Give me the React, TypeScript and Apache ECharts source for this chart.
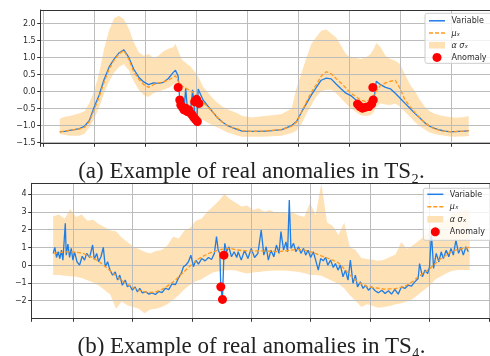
import React, { useEffect, useRef } from 'react';
import * as echarts from 'echarts';

// ---------- (a) TS2 ----------
const topT = [81,105,129,153,177,202,226,250,274,298,323,347,371,395,419,443,468,492,516,540,564,589,613,637,648,661,671,681,690,698,706,722,732,742,753,759,783,806,830,855,879,903,927,952,
  975,1024,1072,1121,1169,1217,1241,1266,1290,1314,1338,1362,1387,1411,1435,1459,1483,1507,1532,1556,1580,1604,1620,1632,1653,1677,1701,1725,1749,1773,1798,1822,1846,1870,1894,1918,1943,1967,1991,2015,2039,2064,2085];
const topVar = [-1.18,-1.17,-1.14,-1.12,-1.09,-1.02,-0.85,-0.45,-0.10,0.35,0.72,0.95,1.13,1.22,1.00,0.66,0.42,0.28,0.20,0.25,0.24,0.27,0.38,0.56,0.62,0.45,-0.45,-0.50,-0.55,0.10,-0.50,-0.52,0.05,-0.65,-0.90,0.07,-0.25,-0.42,-0.60,-0.78,-0.90,-1.00,-1.06,-1.12,
  -1.16,-1.17,-1.17,-1.15,-1.12,-1.00,-0.88,-0.60,-0.35,-0.10,0.12,0.33,0.39,0.37,0.22,0.08,-0.05,-0.12,-0.25,-0.42,-0.46,-0.44,-0.28,0.30,0.20,0.12,0.08,-0.05,-0.20,-0.35,-0.50,-0.65,-0.78,-0.92,-1.02,-1.08,-1.13,-1.16,-1.18,-1.18,-1.17,-1.16,-1.15];
const topMean = [-1.19,-1.16,-1.14,-1.12,-1.10,-1.05,-0.88,-0.52,-0.16,0.28,0.66,0.92,1.10,1.20,0.95,0.58,0.36,0.20,0.12,0.20,0.25,0.28,0.33,0.42,0.46,0.30,0.20,0.16,0.12,0.10,0.07,0.02,-0.02,-0.08,-0.14,-0.18,-0.32,-0.45,-0.60,-0.77,-0.90,-1.00,-1.06,-1.10,
  -1.15,-1.17,-1.16,-1.14,-1.12,-1.02,-0.90,-0.60,-0.30,-0.02,0.20,0.45,0.58,0.52,0.38,0.25,0.10,-0.05,-0.15,-0.25,-0.30,-0.22,-0.10,0.00,0.18,0.25,0.30,0.33,0.08,-0.25,-0.45,-0.62,-0.78,-0.92,-1.02,-1.10,-1.14,-1.17,-1.18,-1.18,-1.17,-1.16,-1.15];
const topLo = [-1.25,-1.28,-1.30,-1.30,-1.30,-1.24,-1.06,-0.80,-0.46,-0.05,0.30,0.55,0.72,0.80,0.62,0.30,0.05,-0.10,-0.16,-0.05,0.00,0.05,0.10,0.20,0.24,0.05,-0.05,-0.20,-0.30,-0.35,-0.40,-0.50,-0.55,-0.62,-0.68,-0.72,-0.84,-0.92,-1.00,-1.06,-1.13,-1.20,-1.25,-1.30,
  -1.33,-1.33,-1.33,-1.31,-1.30,-1.22,-1.15,-0.95,-0.65,-0.40,-0.15,0.00,0.05,0.05,-0.05,-0.20,-0.35,-0.50,-0.60,-0.70,-0.72,-0.70,-0.60,-0.45,-0.35,-0.38,-0.40,-0.35,-0.45,-0.60,-0.75,-0.90,-1.02,-1.12,-1.20,-1.25,-1.28,-1.30,-1.32,-1.33,-1.32,-1.32,-1.30];
const topUp = [-0.80,-0.74,-0.72,-0.68,-0.64,-0.58,-0.34,0.02,0.55,1.25,1.80,2.15,2.22,2.12,1.85,1.45,1.15,1.05,1.10,0.98,1.05,1.18,1.25,1.30,1.40,1.20,1.05,0.92,0.88,0.85,0.80,0.73,0.65,0.58,0.50,0.45,0.14,-0.02,-0.20,-0.34,-0.45,-0.52,-0.58,-0.64,
  -0.72,-0.76,-0.73,-0.70,-0.66,-0.50,0.10,0.55,1.00,1.40,1.60,1.78,1.82,1.70,1.58,1.35,1.10,1.00,0.98,0.95,1.00,1.10,1.25,1.42,1.30,1.05,0.95,0.90,0.80,0.50,0.20,0.00,-0.25,-0.45,-0.58,-0.65,-0.70,-0.73,-0.75,-0.76,-0.76,-0.75,-0.72];
const topAnomT = [661,669,674,682,690,698,706,714,722,730,738,746,755,742,751,763,1540,1551,1564,1580,1596,1609,1617,1615];
const topAnomV = [0.12,-0.25,-0.40,-0.46,-0.54,-0.49,-0.59,-0.54,-0.64,-0.69,-0.76,-0.82,-0.88,-0.30,-0.23,-0.35,-0.37,-0.44,-0.49,-0.46,-0.44,-0.37,-0.25,0.12];
const topXStep = 250;
const topYStep = 0.5;

// ---------- (b) TS4 ----------
const botVarT = [167,174,181,188,195,202,208,218,222,229,236,243,250,257,267,278,289,299,308,320,333,340,350,358,368,378,386,396,406,417,428,438,447,458,470,479,489,500,511,521,531,542,556,570,583,597,611,625,639,653,667,681,695,706,715,725,736,746,757,767,778,792,806,820,833,845,854,861,868,872,879,885,889,896,906,917,928,939,
  945,958,972,986,1000,1014,1028,1042,1053,1063,1072,1083,1095,1106,1117,1125,1136,1146,1153,1160,1167,1178,1188,1199,1209,1220,1229,1239,1250,1261,1271,1282,1292,1303,1313,1322,1334,1345,1354,1365,1375,1386,1396,1407,1417,1428,1438,1447,1459,1470,1481,1493,1507,1521,1535,1549,1563,1577,1590,1604,1618,1632,1646,1660,1674,1688,1702,1708,1720,1731,1742,1750,1758,1767,1778,1789,1799,1808,1820,1831,1840,1850,1861,1872,1882,1892,1903,1913];
const botVarV = [0.66,1.00,0.43,0.75,0.37,0.84,0.28,2.35,0.56,1.18,0.43,0.94,0.28,0.75,0.19,0.00,0.50,0.28,0.66,0.43,1.13,0.32,0.66,0.19,0.47,1.00,-0.09,0.19,-0.28,-0.56,-0.38,-0.84,-0.56,-1.13,-0.84,-1.22,-1.13,-1.41,-1.22,-1.50,-1.31,-1.56,-1.50,-1.63,-1.56,-1.65,-1.48,-1.55,-1.30,-1.38,-1.05,-1.10,-0.70,-0.45,-0.09,0.00,0.19,0.56,-0.09,0.28,0.06,0.37,0.24,0.43,0.32,0.66,1.60,0.84,0.66,-1.22,-1.93,0.56,1.22,0.75,1.03,0.47,0.75,0.43,
  0.75,0.28,0.84,0.37,0.94,0.43,0.66,1.97,0.56,1.03,0.28,0.84,0.47,1.13,0.66,1.88,0.84,1.31,0.75,3.66,0.94,1.22,0.75,1.03,0.66,0.94,0.56,0.84,0.43,0.75,0.28,-0.28,0.37,0.24,0.43,0.00,0.28,-0.13,0.09,-0.28,0.00,-0.66,-0.28,-0.84,0.28,-1.03,-0.56,-1.22,-0.94,-1.31,-1.13,-1.41,-1.22,-1.44,-1.56,-1.41,-1.60,-1.44,-1.63,-1.37,-1.63,-1.22,-1.31,-1.13,-1.18,-0.94,-0.75,0.09,-0.66,-0.28,-0.47,-0.09,1.78,-0.19,0.66,0.19,0.75,0.37,0.84,0.47,0.94,0.56,1.41,0.66,1.00,0.56,1.03,0.75];
const botStatStart = 167;
const botStatStep = 24;
const botMean = [0.66,0.70,0.74,0.75,0.73,0.68,0.57,0.40,0.20,-0.05,-0.32,-0.60,-0.85,-1.08,-1.26,-1.40,-1.50,-1.54,-1.50,-1.38,-1.18,-0.95,-0.66,-0.35,-0.05,0.25,0.45,0.62,0.75,0.85,0.92,0.94,0.86,0.82,0.80,0.80,0.80,0.79,0.78,0.76,0.78,0.82,0.86,0.88,0.84,0.76,0.65,0.52,0.40,0.28,0.12,-0.20,-0.55,-0.85,-1.05,-1.20,-1.26,-1.30,-1.35,-1.34,-1.32,-1.25,-1.12,-0.92,-0.65,-0.42,-0.20,0.10,0.38,0.60,0.80,0.88,0.95,1.00];
const botLo = [-0.56,-0.55,-0.60,-0.62,-0.66,-0.72,-0.85,-0.98,-1.15,-1.40,-1.65,-2.45,-2.05,-2.25,-2.35,-2.45,-2.70,-2.50,-2.45,-2.35,-2.20,-1.95,-1.70,-1.35,-1.10,-0.90,-0.80,-0.60,-0.42,-0.35,-0.30,-0.28,-0.30,-0.40,-0.47,-0.42,-0.38,-0.35,-0.32,-0.30,-0.30,-0.32,-0.35,-0.38,-0.45,-0.55,-0.56,-0.60,-0.75,-0.90,-1.05,-1.30,-1.70,-2.00,-2.35,-2.20,-2.30,-2.40,-2.35,-2.30,-2.20,-2.15,-2.05,-1.90,-1.65,-1.40,-1.15,-0.80,-0.62,-0.45,-0.32,-0.28,-0.28,-0.28];
const botUp = [2.75,2.85,2.60,3.15,2.70,2.85,2.50,2.55,2.30,2.15,1.95,1.90,1.55,1.30,1.05,0.90,0.75,0.65,0.80,0.85,1.10,1.60,1.50,1.95,2.10,2.50,2.60,3.00,3.30,3.60,4.00,3.70,3.50,3.30,3.35,3.10,3.20,3.00,3.10,2.95,3.00,2.90,2.95,2.80,2.70,3.50,2.80,4.60,2.40,2.20,1.70,2.40,1.00,0.85,0.40,0.35,0.30,0.25,0.30,0.45,0.60,1.30,0.90,1.10,1.35,1.60,1.90,2.10,2.30,2.55,2.90,3.00,3.10,3.10];
const botAnomT = [872,879,885];
const botAnomV = [-1.22,-1.93,0.56];
const botXStep = 250;
const botYStep = 1;

const legendLabels = ['Variable', 'μₓ', 'α σₓ', 'Anomaly'];
const captionA = '(a) Example of real anomalies in TS₂.';
const captionB = '(b) Example of real anomalies in TS₄.';

const BLUE = '#1f7de6';
const ORANGE = '#ff9a1f';
const BAND = '#ffe1b6';
const RED = '#ff0000';
const GRIDC = '#bcbcbc';
const AXIS = '#333333';
const FONT = 'DejaVu Sans';

const zip = (a: number[], b: number[]) => a.map((v, i) => [v, b[i]]);

function bandSeries(gi: number, t: number[], lo: number[], up: number[]) {
  return {
    type: 'custom',
    xAxisIndex: gi * 2,
    yAxisIndex: gi * 2,
    z: -1,
    clip: true,
    silent: true,
    data: [[t[0], lo[0]]],
    renderItem: (params: any, api: any) => {
      const pts: number[][] = [];
      for (let i = 0; i < t.length; i++) pts.push(api.coord([t[i], up[i]]));
      for (let i = t.length - 1; i >= 0; i--) pts.push(api.coord([t[i], lo[i]]));
      return { type: 'polygon', shape: { points: pts }, style: { fill: BAND, stroke: null } };
    },
  };
}

function lineSeries(gi: number, data: number[][], color: string, dashed: boolean, z: number) {
  return {
    type: 'line',
    xAxisIndex: gi * 2,
    yAxisIndex: gi * 2,
    data,
    showSymbol: false,
    symbol: 'none',
    z,
    lineStyle: { color, width: 1.3, type: dashed ? [4, 2] : 'solid' },
  };
}

function xAxisCfg(gi: number, min: number, max: number, step: number) {
  return {
    type: 'value', gridIndex: gi, position: 'bottom', min, max, minInterval: step, maxInterval: step,
    axisLine: { show: true, onZero: false, lineStyle: { color: AXIS, width: 1 } },
    axisTick: { show: true, length: 3.5, lineStyle: { color: AXIS, width: 1 } },
    axisLabel: { show: false },
    splitLine: { show: true, lineStyle: { color: GRIDC, width: 1 } },
  };
}

function yAxisCfg(gi: number, min: number, max: number, step: number, fmt: (v: number) => string) {
  return {
    type: 'value', gridIndex: gi, position: 'left', min, max, minInterval: step, maxInterval: step,
    axisLine: { show: true, onZero: false, lineStyle: { color: AXIS, width: 1 } },
    axisTick: { show: true, length: 3.5, lineStyle: { color: AXIS, width: 1 } },
    axisLabel: { show: true, showMinLabel: false, showMaxLabel: false, formatter: fmt, fontFamily: FONT, fontSize: 8, color: '#2a2a2a', margin: 5 },
    splitLine: { show: true, lineStyle: { color: GRIDC, width: 1 } },
  };
}

function frameAxis(kind: 'x' | 'y', gi: number, min: number, max: number) {
  return {
    type: 'value', gridIndex: gi, position: kind === 'x' ? 'top' : 'right', min, max,
    axisLine: { show: true, onZero: false, lineStyle: { color: AXIS, width: 1 } },
    axisTick: { show: false }, axisLabel: { show: false }, splitLine: { show: false },
  };
}

function legend(x: number, y: number, w: number, h: number, rows: number[]) {
  const lx0 = x + 4;
  const lx1 = x + 20;
  const tx = x + 26.5;
  const txt = (s: string, yy: number, italic: boolean) => ({
    type: 'text', z: 101,
    style: { text: s, x: tx, y: yy, fontFamily: FONT, fontSize: 8, fontStyle: italic ? 'italic' : 'normal', fill: '#2a2a2a', verticalAlign: 'middle', align: 'left' },
  });
  return [
    { type: 'rect', z: 100, shape: { x, y, width: w, height: h, r: 2 }, style: { fill: 'rgba(255,255,255,0.8)', stroke: '#cccccc', lineWidth: 1 } },
    { type: 'line', z: 101, shape: { x1: lx0, y1: rows[0], x2: lx1, y2: rows[0] }, style: { stroke: BLUE, lineWidth: 1.5 } },
    txt(legendLabels[0], rows[0], false),
    { type: 'line', z: 101, shape: { x1: lx0, y1: rows[1], x2: lx1, y2: rows[1] }, style: { stroke: ORANGE, lineWidth: 1.5, lineDash: [4, 2] } },
    txt(legendLabels[1], rows[1], true),
    { type: 'rect', z: 101, shape: { x: lx0, y: rows[2] - 3.3, width: lx1 - lx0, height: 6.6 }, style: { fill: BAND } },
    txt(legendLabels[2], rows[2], true),
    { type: 'circle', z: 101, shape: { cx: (lx0 + lx1) / 2, cy: rows[3], r: 4.5 }, style: { fill: RED } },
    txt(legendLabels[3], rows[3], false),
  ];
}

function caption(s: string, y: number) {
  return {
    type: 'text', z: 100,
    style: { text: s, x: 251.5, y, align: 'center', verticalAlign: 'middle', fontFamily: 'Liberation Serif', fontSize: 23, fill: '#222222' },
  };
}

export default function App() {
  const ref = useRef<HTMLDivElement>(null);
  useEffect(() => {
    if (!ref.current) return;
    const chart = echarts.init(ref.current, null, { renderer: 'svg' });
    const botStatT = botMean.map((_, i) => botStatStart + i * botStatStep);
    const fmtA = (v: number) => v.toFixed(1).replace('-', '\u2212');
    const fmtB = (v: number) => String(Math.round(v)).replace('-', '\u2212');
    chart.setOption({
      animation: false,
      grid: [
        { left: 40.7, top: 10, width: 455.3, height: 133.3 },
        { left: 31.7, top: 183.3, width: 462.6, height: 135 },
      ],
      xAxis: [
        xAxisCfg(0, -12.6, 2189.2, topXStep),
        frameAxis('x', 0, -12.6, 2189.2),
        xAxisCfg(1, 76.7, 2004.2, botXStep),
        frameAxis('x', 1, 76.7, 2004.2),
      ],
      yAxis: [
        yAxisCfg(0, -1.52, 2.39, topYStep, fmtA),
        frameAxis('y', 0, -1.52, 2.39),
        yAxisCfg(1, -2.99, 4.6, botYStep, fmtB),
        frameAxis('y', 1, -2.99, 4.6),
      ],
      series: [
        bandSeries(0, topT, topLo, topUp),
        lineSeries(0, zip(topT, topVar), BLUE, false, 2),
        lineSeries(0, zip(topT, topMean), ORANGE, true, 3),
        { type: 'scatter', xAxisIndex: 0, yAxisIndex: 0, z: 4, symbolSize: 9, itemStyle: { color: RED, opacity: 1 }, data: zip(topAnomT, topAnomV) },
        bandSeries(1, botStatT, botLo, botUp),
        lineSeries(1, zip(botVarT, botVarV), BLUE, false, 2),
        lineSeries(1, zip(botStatT, botMean), ORANGE, true, 3),
        { type: 'scatter', xAxisIndex: 2, yAxisIndex: 2, z: 4, symbolSize: 9, itemStyle: { color: RED, opacity: 1 }, data: zip(botAnomT, botAnomV) },
      ],
      graphic: [
        ...legend(425, 13.3, 75, 50, [20.8, 33, 45.2, 57.4]),
        ...legend(423.3, 188.3, 75, 52, [194.3, 206.8, 219.3, 231.8]),
        caption(captionA, 170),
        caption(captionB, 345),
      ],
    });
    return () => chart.dispose();
  }, []);
  return <div ref={ref} style={{ position: 'fixed', left: 0, top: 0, width: 490, height: 356 }} />;
}
